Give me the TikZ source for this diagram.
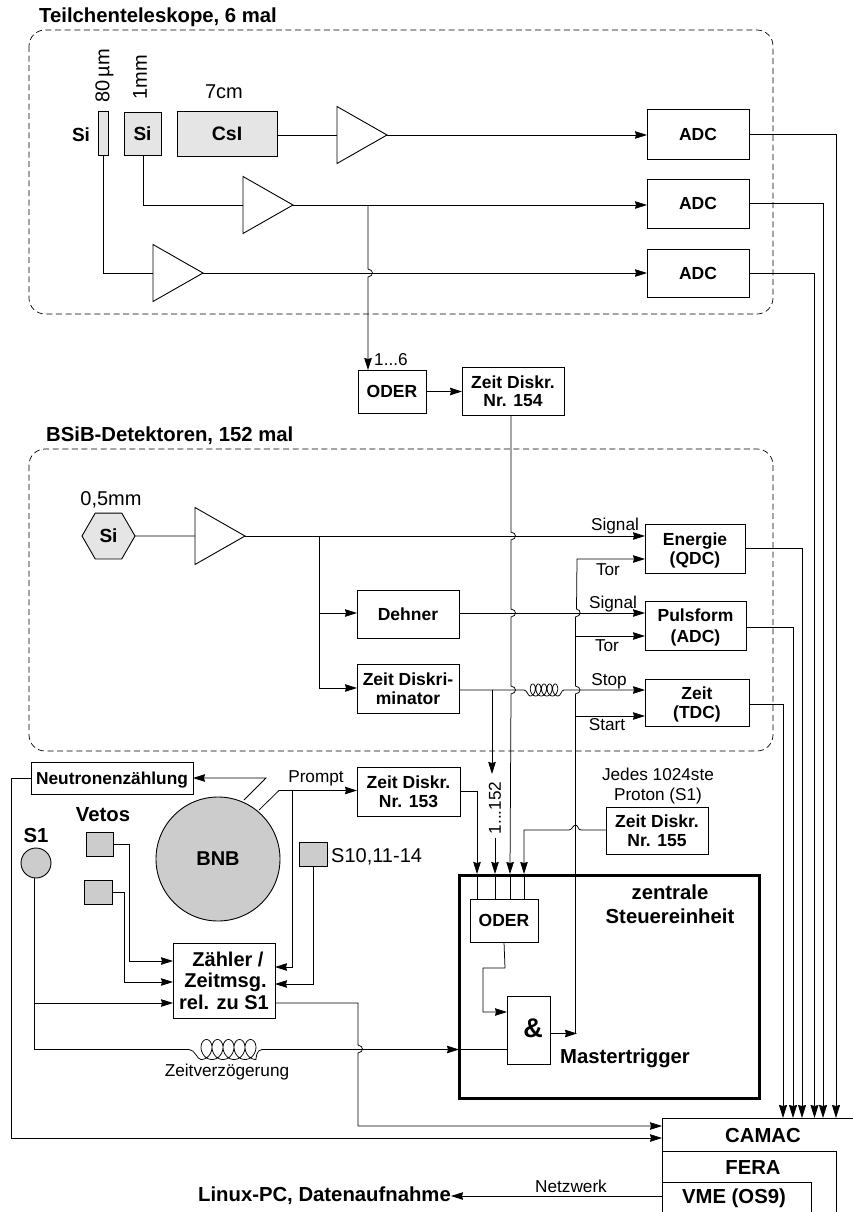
\documentclass[tikz,border=0pt]{standalone}
\usepackage{fontspec}
\setmainfont{Liberation Sans}
\usetikzlibrary{arrows.meta,shapes.geometric,calc}
\newcommand{\fs}[1]{\fontsize{#1}{#1}\selectfont}
\tikzset{
  wire/.style={line width=0.75pt,line join=miter},
  arr/.style={wire,-{Stealth[length=12pt,width=7.5pt,inset=1pt]}},
  arrv/.style={wire,-{Stealth[length=13pt,width=8pt,inset=1pt]}},
  boxb/.style={draw,line width=1pt,inner sep=0pt,outer sep=0pt,align=center,font=\bfseries\fs{17.5},text depth=0pt},
  grp/.style={draw,dashed,dash pattern=on 6pt off 3.6pt,line width=0.7pt,rounded corners=16pt},
  amp/.style={draw,line width=0.9pt,isosceles triangle,isosceles triangle stretches,anchor=lower side,minimum width=57pt,minimum height=50pt,inner sep=0pt,outer sep=0pt},
  lab/.style={inner sep=0pt,font=\fs{17.2}},
  big/.style={inner sep=0pt,font=\fs{20}},
  bold/.style={inner sep=0pt,font=\bfseries\fs{20.3},align=center},
  det/.style={fill=black!10},
  detb/.style={fill=black!20}
}
\newcommand{\bx}[6][]{\node[boxb,minimum width={(#5-#3)*1pt},minimum height={(#6-#4)*1pt},#1] (#2) at ({(#3+#5)/2},{(#4+#6)/2}) {};}
\newcommand{\bt}[7][]{\node[boxb,minimum width={(#5-#3)*1pt},minimum height={(#6-#4)*1pt},#1] (#2) at ({(#3+#5)/2},{(#4+#6)/2}) {#7};}
% vertical wire jumping over a horizontal one
\newcommand{\vj}[2]{-- ({#1},{#2-4}) .. controls ({#1+6},{#2-3}) and ({#1+6},{#2+3}) .. ({#1},{#2+4})}
\begin{document}
\begin{tikzpicture}[x=1pt,y=-1pt]
\clip (0,0) rectangle (853,1212);
\fill[white] (0,0) rectangle (853,1212);

% groups
\node[bold,anchor=west] (t1) at (39,17) {Teilchenteleskope, 6 mal};
\draw[grp] (29,30) rectangle (773,314);
\node[bold,anchor=west] (t2) at (46,436) {BSiB-Detektoren, 152 mal};
\draw[grp] (29,449) rectangle (773,751);

% telescope detectors
\bx[det]{si1}{98}{112}{108}{155}
\bt[det,font=\bfseries\fs{19}]{si2}{124}{113}{161}{155}{Si}
\bt[det,font=\bfseries\fs{19.5}]{csi}{177}{112}{277}{156}{CsI}
\node[inner sep=0pt,font=\bfseries\fs{19}] (lsi) at (81,135) {Si};
\node[big,rotate=90] (l80) at (104.5,76) {80\,µm};
\node[big,rotate=90] (l1) at (140,77) {1mm};
\node[big] (l7) at (224,92) {7cm};

\node[amp] (a1) at (337,135) {};
\node[amp] (a2) at (243,205) {};
\node[amp] (a3) at (153,273) {};

\bt{ad1}{647}{110}{749}{159}{ADC}
\bt{ad2}{647}{179}{749}{228}{ADC}
\bt{ad3}{647}{249}{749}{297}{ADC}

\draw[wire] (csi.east |- a1.lower side) -- (a1.lower side);
\draw[arr] (a1.apex) -- (ad1.west |- a1.apex);
\draw[wire] (si2.south -| 143.5,0) |- (a2.lower side);
\draw[arr] (a2.apex) -- (ad2.west |- a2.apex);
\draw[wire] (si1.south -| 103,0) |- (a3.lower side);
\draw[arr] (a3.apex) -- (ad3.west |- a3.apex);

% ODER / 154
\bt{od1}{358}{370}{426}{413}{ODER}
\bt{z154}{462}{367}{564}{415}{Zeit Diskr.\\[1pt]Nr. 154}
\node[lab,anchor=west] (l16) at (374,360) {1...6};
\draw[arr] (368,205) \vj{368}{273} -- (od1.north -| 368,0);
\draw[arr] (od1.east) -- (od1.east -| z154.west);

% BSiB
\node[draw,line width=0.9pt,det,regular polygon,regular polygon sides=6,minimum size=53pt,inner sep=0pt,outer sep=0pt,font=\bfseries\fs{19}] (hex) at (108.5,536) {Si};
\node[big] (l05) at (111,500) {0,5mm};
\node[amp] (a4) at (195,536) {};
\bt{deh}{357}{590}{459}{638}{Dehner}
\bt{zd}{357}{664}{459}{713}{Zeit Diskri-\\[1pt]minator}
\bt{en}{645}{524}{745}{573}{Energie\\[2pt](QDC)}
\bt{pu}{645}{601}{746}{650}{Pulsform\\[3pt](ADC)}
\bt{ze}{645}{679}{749}{726}{Zeit\\[1pt](TDC)}
\draw[wire] (hex.east) -- (a4.lower side);
\draw[arr] (a4.apex) -- (en.west |- a4.apex);
\coordinate (br) at (319,536);
\draw[wire] (br) -- (319,688);
\draw[arr] (319,613) -- (deh.west |- 0,613);
\draw[arr] (319,688) -- (zd.west |- 0,688);
\draw[arr] (deh.east |- 0,613) -- (pu.west |- 0,613);
\coordinate (c2a) at (530,696);
\draw[arr] (zd.east |- 0,690) -- (524,690) .. controls (527,690) and (528,696) .. (c2a)
  -- plot[domain=0:1800,samples=150,smooth] ({530+5.6*(\x/360)+3.8*sin(\x)},{690+6*cos(\x)})
  .. controls (561,696) and (561,690) .. (564,690) -- (ze.west |- 0,690);
\draw[arr] (492,690) -- (492,774);
\node[lab,rotate=90] (l152) at (495,808) {1...152};
\draw[arr] (495,838) -- (495,874);

\node[lab] (ls1) at (615,526) {Signal};
\node[lab] (lt1) at (608,570) {Tor};
\node[lab] (ls2) at (613,604) {Signal};
\node[lab] (lt2) at (607,646) {Tor};
\node[lab] (lsp) at (609,681) {Stop};
\node[lab] (lst) at (607,725) {Start};

% outputs to CAMAC
\node[draw,line width=1pt,minimum width=240pt,minimum height=120pt,anchor=north west,inner sep=0pt,outer sep=0pt] (cam) at (662,1118) {};
\node[draw,line width=1pt,minimum width=174pt,minimum height=80pt,anchor=north west,inner sep=0pt,outer sep=0pt] (fer) at (662,1151) {};
\node[draw,line width=1pt,minimum width=149pt,minimum height=50pt,anchor=north west,inner sep=0pt,outer sep=0pt] (vme) at (662,1182) {};
\node[bold] (tc) at (763,1135) {CAMAC};
\node[bold] (tf) at (753,1168) {FERA};
\node[bold] (tv) at (734,1198) {VME (OS9)};
\draw[arrv] (ad1.east) -| (836,1118);
\draw[arrv] (ad2.east) -| (823,1118);
\draw[arrv] (ad3.east) -| (814.5,1118);
\draw[arrv] (en.east) -| (802,1118);
\draw[arrv] (pu.east |- 0,627) -| (793,1118);
\draw[arrv] (ze.east |- 0,704) -| (783,1118);

% lower left
\node[draw,detb,circle,line width=0.9pt,minimum size=124pt,inner sep=0pt,outer sep=0pt,font=\bfseries\fs{20}] (bnb) at (218,859) {BNB};
\bt[font=\bfseries\fs{17.3}]{ne}{31}{762}{193}{794}{Neutronenzählung}
\node[draw,detb,circle,line width=0.9pt,minimum size=30pt,inner sep=0pt,outer sep=0pt] (s1) at (36,863) {};
\node[bold] (ls) at (36,836) {S1};
\node[bold] (lv) at (103,815) {Vetos};
\bx[detb]{v1}{86}{832}{113}{856}
\bx[detb]{v2}{84}{880}{112}{904}
\bx[detb]{s10}{299}{842}{327}{866}
\node[big,anchor=west] (ls10) at (331,857) {S10,11-14};
\bt[font=\bfseries\fs{20},align=center]{za}{173}{943}{275}{1018}{\hspace*{8pt}Zähler /\\[1.5pt]\hspace*{3pt}Zeitmsg.\\[1.5pt]rel. zu S1}
\bt{z153}{357}{767}{460}{816}{Zeit Diskr.\\[1pt]Nr. 153}
\node[lab] (lp) at (316,778) {Prompt};

\draw[arr] (244,800) -- (266,778) -- (ne.east |- 0,778);
\draw[arr] (259,810) -- (279,790.5) -- (z153.west |- 0,790.5);
\draw[arr] (292,790.5) |- (za.east |- 0,967);
\draw[arr] (s10.south) |- (za.east |- 0,984);
\draw[arr] (v1.east) -| (129,961) -- (za.west |- 0,961);
\draw[arr] (v2.east) -| (124,982) -- (za.west |- 0,982);
\draw[arr] (34.5,1003) -- (za.west |- 0,1003);
\draw[arr] (ne.west) -- (11,778) |- (cam.west |- 0,1138);
\draw[arr] (za.east |- 0,1003) -- (358,1003) \vj{358}{1049} |- (cam.west |- 0,1126);

% delay line
\coordinate (c1a) at (201,1059.5);
\node[lab] (lz) at (227,1072) {Zeitverzögerung};
\node[draw,line width=1pt,inner sep=0pt,outer sep=0pt,minimum width=43pt,minimum height=68pt] (and) at (528.5,1030) {};
\node[inner sep=0pt,font=\bfseries\fs{27}] (lamp) at (533,1028) {\&};
\draw[arr] (s1.south -| 34.5,0) -- (34.5,1049.5) -- (189,1049.5) .. controls (195,1049.5) and (197,1059.5) .. (c1a)
  -- plot[domain=0:1800,samples=200,smooth] ({201+11*(\x/360)+8*sin(\x)},{1049.5+10*cos(\x)})
  .. controls (256,1059.5) and (256,1049.5) .. (262,1049.5) -- (459,1049.5);
\draw[wire] (459,1049.5) -- (and.west |- 0,1049.5);

% central unit
\node[draw,line width=3pt,inner sep=0pt,outer sep=0pt,minimum width=300pt,minimum height=223pt] (cu) at (609,986.5) {};
\node[bold] (lcu) at (670,904) {zentrale\\[4pt]Steuereinheit};
\node[bold] (lmt) at (625,1058) {Mastertrigger};
\bt{od2}{470}{899}{538}{942}{ODER}
\draw[arr] (od2.south) -- (505,968) -- (483,968) |- (and.west |- 0,1012);
\draw[arr] (and.east |- 0,1033.5) -- (577,1033.5);

% wires into the ODER
\draw[arr] (z153.east |- 0,791) -| (477,874);
\draw[arr] (511,0 |- z154.south) \vj{511}{536} \vj{511}{613} \vj{511}{690} -- (510,874);
\bt[]{z155}{606}{807}{708}{854}{Zeit Diskr.\\[1pt]Nr. 155}
\node[lab,align=center] (lj) at (658,786) {Jedes 1024ste\\[2pt]Proton (S1)};
\draw[arr] (z155.west |- 0,830) -- (581,830) .. controls (578,830) and (578,825) .. (575.5,825) .. controls (573,825) and (572,830) .. (569,830) -- (524,830) -- (524,874);
\draw[wire] (477,875) -- (477,899);
\draw[wire] (495,875) -- (495,899);
\draw[wire] (510,875) -- (510,899);
\draw[wire] (524.5,875) -- (524.5,899);

% Mastertrigger distribution
\draw[arr] (575.5,1033.5) -- (575.5,694) .. controls (581.5,693) and (581.5,687) .. (575.5,686) -- (575.5,617) .. controls (581.5,616) and (581.5,610) .. (576.5,609) -- (577,559) -- (en.west |- 0,559);
\draw[arr] (576,636) -- (pu.west |- 0,636);
\draw[arr] (575.5,716) -- (ze.west |- 0,716);

% network
\node[bold,anchor=east] (lin) at (451,1196) {Linux-PC, Datenaufnahme};
\node[lab] (lnw) at (571,1186) {Netzwerk};
\draw[arr] (vme.west |- 0,1196) -- (lin.east);
\end{tikzpicture}
\end{document}
